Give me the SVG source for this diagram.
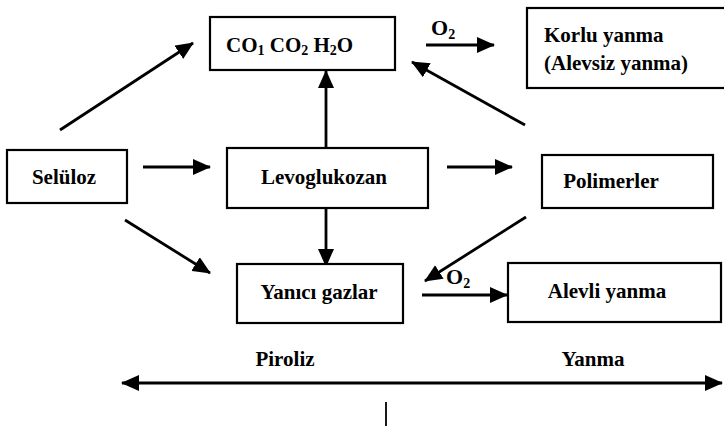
<svg xmlns="http://www.w3.org/2000/svg" width="724" height="432" viewBox="0 0 724 432">
<style>
  .box{fill:#fff;stroke:#000;stroke-width:2.2}
  .t{font-family:"Liberation Serif","Times New Roman",serif;font-size:21px;font-weight:bold;fill:#000}
  .c{text-anchor:middle}
  .ln{stroke:#000;stroke-width:2.8;fill:none}
  .sub{font-size:14px}
</style>
<defs>
  <marker id="ah" markerUnits="userSpaceOnUse" markerWidth="18" markerHeight="16" refX="17" refY="8" orient="auto-start-reverse">
    <path d="M0,0 L18,8 L0,16 z" fill="#000"/>
  </marker>
</defs>
<rect width="724" height="432" fill="#fff"/>
<g id="connectors">
  <line class="ln" x1="60" y1="130" x2="193" y2="43" marker-end="url(#ah)"/>
  <line class="ln" x1="143" y1="167" x2="210" y2="167" marker-end="url(#ah)"/>
  <line class="ln" x1="125" y1="220" x2="210" y2="273" marker-end="url(#ah)"/>
  <line class="ln" x1="326" y1="148" x2="326" y2="71" marker-end="url(#ah)"/>
  <line class="ln" x1="326" y1="208" x2="326" y2="266" marker-end="url(#ah)"/>
  <line class="ln" x1="447" y1="167" x2="512" y2="167" marker-end="url(#ah)"/>
  <line class="ln" x1="525" y1="125" x2="412" y2="62" marker-end="url(#ah)"/>
  <line class="ln" x1="526" y1="217" x2="425" y2="281" marker-end="url(#ah)"/>
  <line class="ln" x1="422" y1="295" x2="507" y2="295" marker-end="url(#ah)"/>
  <line class="ln" x1="426" y1="45" x2="494" y2="45" marker-end="url(#ah)"/>
  <text class="t" x="431" y="35" style="font-size:22px">O<tspan class="sub" dy="4">2</tspan></text>
  <text class="t" x="446" y="284" style="font-size:22px">O<tspan class="sub" dy="4">2</tspan></text>
  <line class="ln" x1="122" y1="383" x2="722" y2="383" marker-start="url(#ah)" marker-end="url(#ah)"/>
</g>
<g id="co">
  <rect class="box" x="210" y="17" width="185" height="53"/>
  <text class="t" x="226" y="52">CO<tspan class="sub" dy="3">1</tspan><tspan dy="-3"> CO</tspan><tspan class="sub" dy="3">2</tspan><tspan dy="-3"> H</tspan><tspan class="sub" dy="3">2</tspan><tspan dy="-3">O</tspan></text>
</g>
<g id="korlu">
  <rect class="box" x="527" y="8" width="200" height="80"/>
  <text class="t" x="544" y="42">Korlu yanma</text>
  <text class="t" x="544" y="70">(Alevsiz yanma)</text>
</g>
<g id="seluloz">
  <rect class="box" x="7" y="150" width="120" height="53"/>
  <text class="t c" x="64" y="184">Selüloz</text>
</g>
<g id="levoglukozan">
  <rect class="box" x="227" y="148" width="201" height="60"/>
  <text class="t c" x="324" y="184">Levoglukozan</text>
</g>
<g id="polimerler">
  <rect class="box" x="542" y="155" width="171" height="53"/>
  <text class="t c" x="611" y="188">Polimerler</text>
</g>
<g id="yanici">
  <rect class="box" x="237" y="264" width="166" height="59"/>
  <text class="t c" x="319" y="299">Yanıcı gazlar</text>
</g>
<g id="alevli">
  <rect class="box" x="508" y="263" width="213" height="59"/>
  <text class="t c" x="607" y="298">Alevli yanma</text>
</g>
<g id="axis">
  <text class="t c" x="285" y="366">Piroliz</text>
  <text class="t c" x="593" y="366">Yanma</text>
  <line x1="386" y1="402" x2="386" y2="426" stroke="#000" stroke-width="1.8"/>
</g>
</svg>
